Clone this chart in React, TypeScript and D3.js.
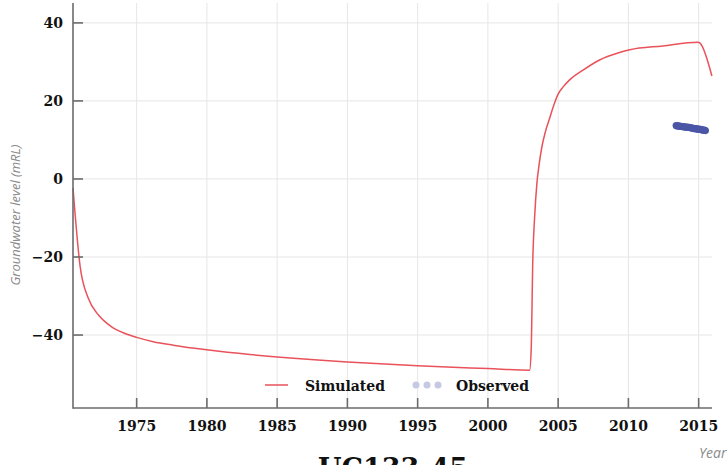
import * as d3 from "d3";
import { useRef, useEffect } from "react";

// simulated groundwater level (mRL) by decimal year
const simYears = [
  1970.47, 1970.97, 1971.56, 1972.32, 1973.22, 1974.17, 1975.0, 1976.18, 1977.6, 1980.0,
  1983.06, 1985.0, 1990.0, 1995.0, 2000.0, 2002.97, 2003.08, 2003.2, 2003.33, 2003.49,
  2003.65, 2003.83, 2004.1, 2004.4, 2004.7, 2004.98, 2005.4, 2005.82, 2006.77, 2007.95,
  2009.37, 2010.1, 2012.45, 2014.94, 2015.1, 2015.94,
];
const simValues = [
  -2.3, -22.2, -30.6, -35.0, -37.9, -39.6, -40.6, -41.7, -42.6, -43.8,
  -45.0, -45.6, -46.9, -47.9, -48.6, -49.0, -43.8, -20.2, -9.5, -1.0,
  3.8, 8.0, 12.2, 15.6, 19.0, 21.6, 23.8, 25.4, 27.9, 30.5,
  32.4, 33.1, 34.1, 35.05, 34.8, 26.4,
];

// observed readings
const obsYears = [
  2013.4, 2013.48, 2013.57, 2013.65, 2013.73, 2013.82, 2013.9, 2013.98, 2014.07, 2014.15,
  2014.23, 2014.32, 2014.4, 2014.48, 2014.57, 2014.65, 2014.73, 2014.82, 2014.9, 2014.98,
  2015.07, 2015.15, 2015.23, 2015.32, 2015.4, 2015.48,
];
const obsValues = [
  13.7, 13.6, 13.6, 13.5, 13.5, 13.4, 13.4, 13.3, 13.3, 13.3,
  13.2, 13.2, 13.1, 13.1, 13.0, 13.0, 12.9, 12.9, 12.8, 12.8,
  12.7, 12.7, 12.6, 12.5, 12.5, 12.4,
];

const xTicks = [1975, 1980, 1985, 1990, 1995, 2000, 2005, 2010, 2015];
const yTicks = [-40, -20, 0, 20, 40];

const width = 728;
const height = 465;
const marginLeft = 73;
const marginRight = 16;
const marginTop = 3;
const plotBottom = 408;

const simColor = "#e9525a";
const obsColor = "#4b56a6";
const tickFont = "DejaVu Serif, serif";

export default function App() {
  const ref = useRef<SVGSVGElement | null>(null);

  useEffect(() => {
    const svg = d3.select(ref.current);
    svg.selectAll("*").remove();

    const x = d3.scaleLinear().domain([1970.47, 2015.95]).range([marginLeft, width - marginRight]);
    const y = d3.scaleLinear().domain([-58.7, 45.1]).range([plotBottom, marginTop]);

    // grid
    const grid = svg.append("g").attr("stroke", "#e6e6e6").attr("stroke-width", 1);
    grid.selectAll(".gx").data(xTicks).join("line")
      .attr("x1", d => x(d)).attr("x2", d => x(d))
      .attr("y1", marginTop).attr("y2", plotBottom);
    grid.selectAll(".gy").data(yTicks).join("line")
      .attr("x1", marginLeft).attr("x2", width - marginRight)
      .attr("y1", d => y(d)).attr("y2", d => y(d));

    // simulated line
    const sim = simYears.map((t, i) => [t, simValues[i]] as [number, number]);
    const line = d3.line<[number, number]>()
      .x(d => x(d[0]))
      .y(d => y(d[1]))
      .curve(d3.curveMonotoneX);
    svg.append("path")
      .datum(sim)
      .attr("d", line)
      .attr("fill", "none")
      .attr("stroke", simColor)
      .attr("stroke-width", 1.5)
      .attr("stroke-linejoin", "round");

    // observed points
    svg.append("g").selectAll("circle")
      .data(obsYears.map((t, i) => [t, obsValues[i]]))
      .join("circle")
      .attr("cx", d => x(d[0]))
      .attr("cy", d => y(d[1]))
      .attr("r", 3.6)
      .attr("fill", obsColor);

    // axes
    const axis = svg.append("g").attr("stroke", "#6b6b6b").attr("stroke-width", 1.6);
    axis.append("line").attr("x1", marginLeft).attr("x2", marginLeft).attr("y1", marginTop).attr("y2", plotBottom + 0.8);
    axis.append("line").attr("x1", marginLeft).attr("x2", width - marginRight).attr("y1", plotBottom).attr("y2", plotBottom);
    axis.selectAll(".ty").data(yTicks).join("line")
      .attr("x1", marginLeft).attr("x2", marginLeft + 10)
      .attr("y1", d => y(d)).attr("y2", d => y(d));
    axis.selectAll(".tx").data(xTicks).join("line")
      .attr("x1", d => x(d)).attr("x2", d => x(d))
      .attr("y1", plotBottom).attr("y2", plotBottom - 10);

    const fmt = d3.format("d");
    svg.append("g").selectAll("text").data(yTicks).join("text")
      .attr("x", marginLeft - 10)
      .attr("y", d => y(d) + 5)
      .attr("text-anchor", "end")
      .attr("font-family", tickFont)
      .attr("font-weight", "bold")
      .attr("font-size", 14)
      .attr("fill", "#111")
      .text(d => (d < 0 ? "\u2212" + fmt(-d) : fmt(d)));

    svg.append("g").selectAll("text").data(xTicks).join("text")
      .attr("x", d => x(d))
      .attr("y", 431)
      .attr("text-anchor", "middle")
      .attr("font-family", tickFont)
      .attr("font-weight", "bold")
      .attr("font-size", 14)
      .attr("fill", "#111")
      .text(d => fmt(d));

    // axis titles
    svg.append("text")
      .attr("transform", "translate(20,215) rotate(-90)")
      .attr("text-anchor", "middle")
      .attr("font-family", "Open Sans, sans-serif")
      .attr("font-style", "italic")
      .attr("font-size", 13)
      .attr("fill", "#8a8a8a")
      .text("Groundwater level (mRL)");

    svg.append("text")
      .attr("x", 699)
      .attr("y", 458)
      .attr("font-family", "Open Sans, sans-serif")
      .attr("font-style", "italic")
      .attr("font-size", 14)
      .attr("fill", "#8a8a8a")
      .text("Year");

    // chart title, cropped by the bottom edge as in the source
    svg.append("text")
      .attr("x", 393)
      .attr("y", 478)
      .attr("text-anchor", "middle")
      .attr("font-family", tickFont)
      .attr("font-weight", "bold")
      .attr("font-size", 27)
      .attr("fill", "#111")
      .text("UC133-45");

    // legend
    const lg = svg.append("g").attr("font-family", tickFont).attr("font-weight", "bold").attr("font-size", 14).attr("fill", "#111");
    lg.append("line").attr("x1", 265).attr("x2", 288).attr("y1", 385).attr("y2", 385)
      .attr("stroke", simColor).attr("stroke-width", 1.5);
    lg.append("text").attr("x", 305).attr("y", 391).text("Simulated");
    lg.selectAll("circle").data([416, 427, 438]).join("circle")
      .attr("cx", d => d).attr("cy", 385).attr("r", 3.5).attr("fill", "#c6c9e4");
    lg.append("text").attr("x", 456).attr("y", 391).text("Observed");
  }, []);

  return (
    <svg
      ref={ref}
      width={width}
      height={height}
      style={{ position: "absolute", left: 0, top: 0, background: "#fff", display: "block" }}
    />
  );
}
